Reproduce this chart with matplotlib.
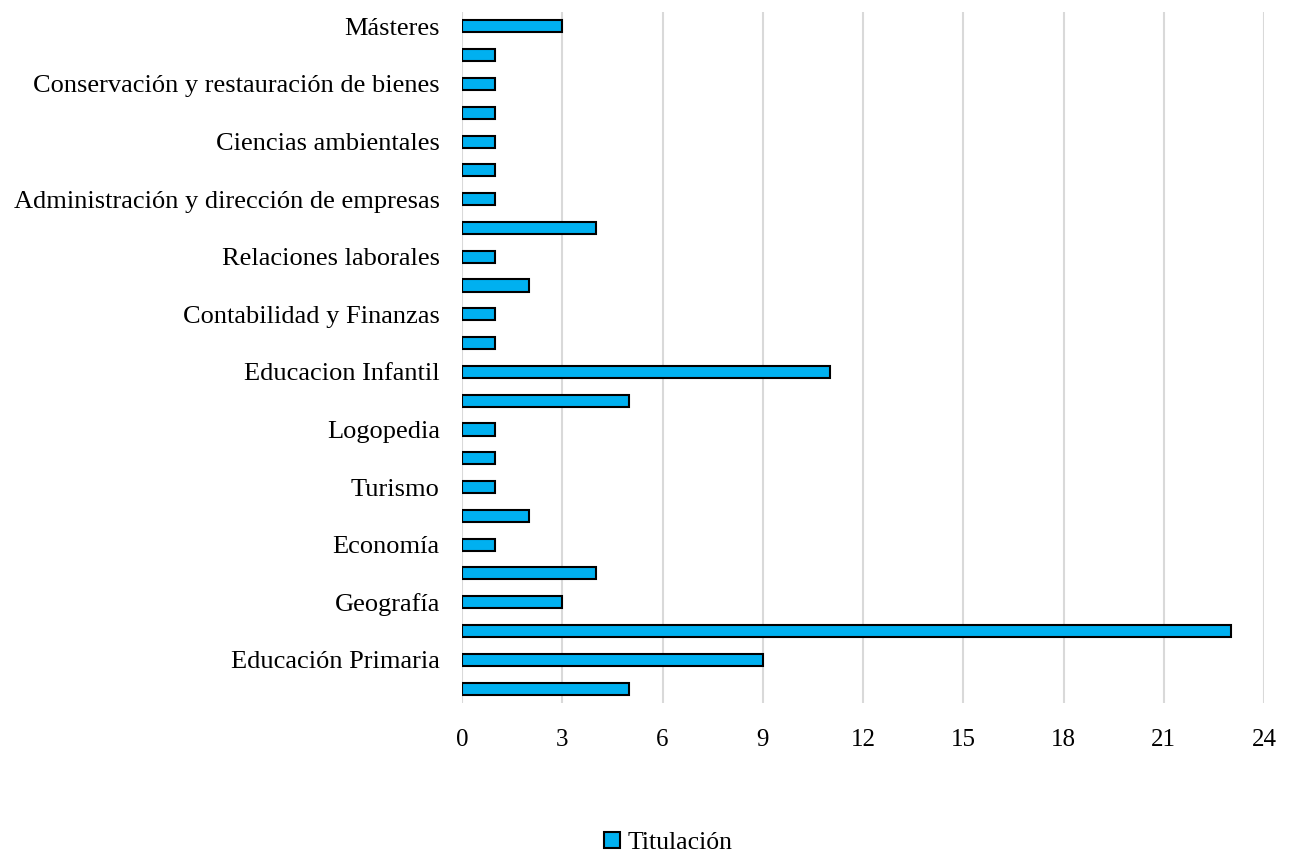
import numpy as np
import matplotlib.pyplot as plt
from matplotlib.patches import Patch

plt.rcParams['font.family'] = ['Liberation Serif', 'DejaVu Serif']

# categories bottom -> top; Excel only printed every other label
categories = ['', 'Educación Primaria', '', 'Geografía', '', 'Economía', '', 'Turismo',
              '', 'Logopedia', '', 'Educacion Infantil', '', 'Contabilidad y Finanzas',
              '', 'Relaciones laborales', '', 'Administración y dirección de empresas',
              '', 'Ciencias ambientales', '', 'Conservación y restauración de bienes',
              '', 'Másteres']
values = [5, 9, 23, 3, 4, 1, 2, 1, 1, 1, 5, 11, 1, 1, 2, 1, 4, 1, 1, 1, 1, 1, 1, 3]
xticks = [0, 3, 6, 9, 12, 15, 18, 21, 24]

fig = plt.figure(figsize=(12.93, 8.57), dpi=100)
ax = fig.add_axes([0.3573, 0.1797, 0.6203, 0.8063])

y = np.arange(len(values))
ax.barh(y, values, height=0.42, color='#00B0F0', edgecolor='black', linewidth=1.5, zorder=3)

ax.set_xlim(0, 24)
ax.set_ylim(-0.5, len(values) - 0.5)
ax.set_xticks(xticks)
ax.set_xticklabels([str(t) for t in xticks], fontsize=18)
ax.set_yticks(y)
ax.set_yticklabels(categories, fontsize=19)
ax.tick_params(axis='both', length=0)
ax.tick_params(axis='x', pad=19)
ax.tick_params(axis='y', pad=16)

ax.grid(axis='x', color='#D9D9D9', linewidth=1.5, zorder=0)
for s in ax.spines.values():
    s.set_visible(False)

handle = Patch(facecolor='#00B0F0', edgecolor='black', linewidth=1.5, label='Titulación')
fig.legend(handles=[handle], loc='center', bbox_to_anchor=(0.517, 0.016), frameon=False,
           fontsize=18.5, handlelength=0.6, handleheight=0.6, handletextpad=0.3)

fig.savefig('out.png', dpi=100)
